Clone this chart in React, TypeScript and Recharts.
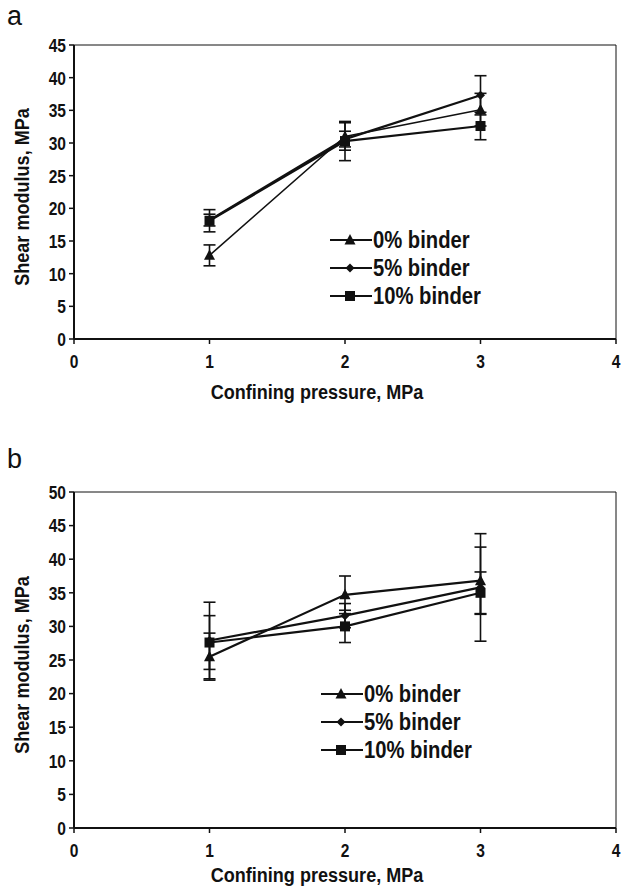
import React from 'react';
import { LineChart, Line, XAxis, YAxis, ErrorBar, ReferenceLine, Legend } from 'recharts';

// ---------- data ----------
const pressures = [1, 2, 3];
const xTicks = [0, 1, 2, 3, 4];
const seriesNames = ['0% binder', '5% binder', '10% binder'];
const seriesShapes = ['triangle', 'diamond', 'square'];

// panel a
const aYTicks = [0, 5, 10, 15, 20, 25, 30, 35, 40, 45];
const aBinder0 = [12.8, 31.0, 35.1];
const aBinder0Err = [1.6, 2.1, 2.5];
const aBinder5 = [18.2, 30.6, 37.3];
const aBinder5Err = [0.9, 1.2, 3.0];
const aBinder10 = [18.1, 30.3, 32.6];
const aBinder10Err = [1.7, 3.0, 2.1];

// panel b
const bYTicks = [0, 5, 10, 15, 20, 25, 30, 35, 40, 45, 50];
const bBinder0 = [25.5, 34.7, 36.8];
const bBinder0Err = [3.5, 2.8, 5.0];
const bBinder5 = [27.9, 31.6, 35.8];
const bBinder5Err = [5.7, 1.8, 8.0];
const bBinder10 = [27.6, 30.0, 35.0];
const bBinder10Err = [4.0, 2.4, 3.1];

const buildRows = (v0: number[], e0: number[], v5: number[], e5: number[], v10: number[], e10: number[]) =>
  pressures.map((p, i) => ({ p, v0: v0[i], e0: e0[i], v5: v5[i], e5: e5[i], v10: v10[i], e10: e10[i] }));

const aData = buildRows(aBinder0, aBinder0Err, aBinder5, aBinder5Err, aBinder10, aBinder10Err);
const bData = buildRows(bBinder0, bBinder0Err, bBinder5, bBinder5Err, bBinder10, bBinder10Err);

// ---------- styling ----------
const INK = '#111';
const FONT = "'Liberation Sans', Arial, sans-serif";
const NARROW = 0.82;

const Marker = ({ shape, cx, cy }: { shape: string; cx: number; cy: number }) => {
  if (cx == null || cy == null) return null;
  if (shape === 'triangle') {
    return <polygon points={`${cx},${cy - 6} ${cx - 5.5},${cy + 4.5} ${cx + 5.5},${cy + 4.5}`} fill={INK} />;
  }
  if (shape === 'diamond') {
    return <polygon points={`${cx},${cy - 4.5} ${cx + 4.5},${cy} ${cx},${cy + 4.5} ${cx - 4.5},${cy}`} fill={INK} />;
  }
  return <rect x={cx - 5} y={cy - 5} width={10} height={10} fill={INK} />;
};

const makeDot = (shape: string) => (props: any) => (
  <Marker key={`${shape}-${props.index}`} shape={shape} cx={props.cx} cy={props.cy} />
);

const YTick = (props: any) => {
  const { x, y, payload } = props;
  return (
    <g transform={`translate(${x},${y})`}>
      <text
        transform={`scale(${NARROW},1)`}
        textAnchor="end"
        dy="0.36em"
        fontFamily={FONT}
        fontWeight={700}
        fontSize={19}
        fill={INK}
      >
        {payload.value}
      </text>
    </g>
  );
};

const XTick = (props: any) => {
  const { x, y, payload } = props;
  return (
    <g transform={`translate(${x},${y})`}>
      <text
        transform={`scale(${NARROW},1)`}
        textAnchor="middle"
        dy="0.71em"
        fontFamily={FONT}
        fontWeight={700}
        fontSize={19}
        fill={INK}
      >
        {payload.value}
      </text>
    </g>
  );
};

const YTitle = (props: any) => {
  const vb = props.viewBox || { y: 0, height: 0 };
  const cy = vb.y + vb.height / 2 + 5;
  const x = 21;
  return (
    <g transform={`translate(${x},${cy}) rotate(-90) scale(0.86,1)`}>
      <text textAnchor="middle" dy="0.36em" fontFamily={FONT} fontWeight={700} fontSize={21} fill={INK}>
        Shear modulus, MPa
      </text>
    </g>
  );
};

const XTitle = ({ viewBox, dy }: any) => {
  const vb = viewBox || { x: 0, y: 0, width: 0 };
  const cx = vb.x + vb.width / 2 - 28;
  return (
    <g transform={`translate(${cx},${vb.y + dy}) scale(0.86,1)`}>
      <text textAnchor="middle" fontFamily={FONT} fontWeight={700} fontSize={21} fill={INK}>
        Confining pressure, MPa
      </text>
    </g>
  );
};

const LegendBox = ({ rowGap }: { rowGap: number }) => (
  <svg width={200} height={rowGap * 3} style={{ display: 'block' }}>
    {seriesNames.map((name, i) => {
      const cy = rowGap / 2 + i * rowGap;
      return (
        <g key={name}>
          <line x1={0} y1={cy} x2={42} y2={cy} stroke={INK} strokeWidth={2} />
          <Marker shape={seriesShapes[i]} cx={20} cy={cy} />
          <g transform={`translate(43,${cy}) scale(0.88,1)`}>
            <text dy="0.36em" fontFamily={FONT} fontWeight={700} fontSize={23} fill={INK}>
              {name}
            </text>
          </g>
        </g>
      );
    })}
  </svg>
);

type PanelProps = {
  data: any[];
  yMax: number;
  yTicks: number[];
  height: number;
  top: number;
  plotTop: number;
  xAxisHeight: number;
  titleDy: number;
  legendLeft: number;
  legendTop: number;
  rowGap: number;
  thinFirst: boolean;
};

const Panel = (p: PanelProps) => (
  <div style={{ position: 'absolute', left: 0, top: p.top, width: 621, height: p.height }}>
    <LineChart
      width={621}
      height={p.height}
      data={p.data}
      margin={{ top: p.plotTop, right: 5, bottom: 0, left: 30 }}
    >
      <XAxis
        type="number"
        dataKey="p"
        domain={[0, 4]}
        ticks={xTicks}
        interval={0}
        axisLine={{ stroke: INK, strokeWidth: 2 }}
        tickLine={{ stroke: INK, strokeWidth: 1.5 }}
        tickSize={5}
        tickMargin={11}
        tick={<XTick />}
        height={p.xAxisHeight}
        label={<XTitle dy={p.titleDy} />}
      />
      <YAxis
        type="number"
        domain={[0, p.yMax]}
        ticks={p.yTicks}
        interval={0}
        width={44}
        axisLine={{ stroke: INK, strokeWidth: 2 }}
        tickLine={{ stroke: INK, strokeWidth: 1.5 }}
        tickSize={5}
        tickMargin={3}
        tick={<YTick />}
        label={<YTitle />}
      />
      <ReferenceLine y={p.yMax} stroke={INK} strokeWidth={1} />
      <ReferenceLine x={4} stroke={INK} strokeWidth={1} />
      <Legend
        layout="horizontal"
        verticalAlign="middle"
        align="center"
        wrapperStyle={{ left: p.legendLeft, top: p.legendTop, width: 'auto' }}
        content={() => <LegendBox rowGap={p.rowGap} />}
      />
      <Line
        dataKey="v10"
        name={seriesNames[2]}
        stroke={INK}
        strokeWidth={2.2}
        dot={makeDot('square')}
        activeDot={false}
        isAnimationActive={false}
      >
        <ErrorBar dataKey="e10" direction="y" width={6} stroke={INK} strokeWidth={1.6} />
      </Line>
      <Line
        dataKey="v5"
        name={seriesNames[1]}
        stroke={INK}
        strokeWidth={2.2}
        dot={makeDot('diamond')}
        activeDot={false}
        isAnimationActive={false}
      >
        <ErrorBar dataKey="e5" direction="y" width={6} stroke={INK} strokeWidth={1.6} />
      </Line>
      <Line
        dataKey="v0"
        name={seriesNames[0]}
        stroke={INK}
        strokeWidth={p.thinFirst ? 1.5 : 2.2}
        dot={makeDot('triangle')}
        activeDot={false}
        isAnimationActive={false}
      >
        <ErrorBar dataKey="e0" direction="y" width={6} stroke={INK} strokeWidth={1.6} />
      </Line>
    </LineChart>
  </div>
);

const panelLetter = (letter: string, top: number) => (
  <div
    style={{
      position: 'absolute',
      left: 7,
      top,
      fontFamily: "'Liberation Sans', Arial, sans-serif",
      fontSize: 27,
      lineHeight: 1,
      color: INK,
    }}
  >
    {letter}
  </div>
);

export default function App() {
  return (
    <div style={{ position: 'absolute', left: 0, top: 0, width: 621, height: 886, background: '#fff' }}>
      <Panel
        data={aData}
        yMax={45}
        yTicks={aYTicks}
        height={440}
        top={0}
        plotTop={45}
        xAxisHeight={101}
        titleDy={60}
        legendLeft={330}
        legendTop={226}
        rowGap={28}
        thinFirst={true}
      />
      <Panel
        data={bData}
        yMax={50}
        yTicks={bYTicks}
        height={446}
        top={440}
        plotTop={52}
        xAxisHeight={58}
        titleDy={54}
        legendLeft={321}
        legendTop={240}
        rowGap={28}
        thinFirst={false}
      />
      {panelLetter('a', 3)}
      {panelLetter('b', 446)}
    </div>
  );
}
